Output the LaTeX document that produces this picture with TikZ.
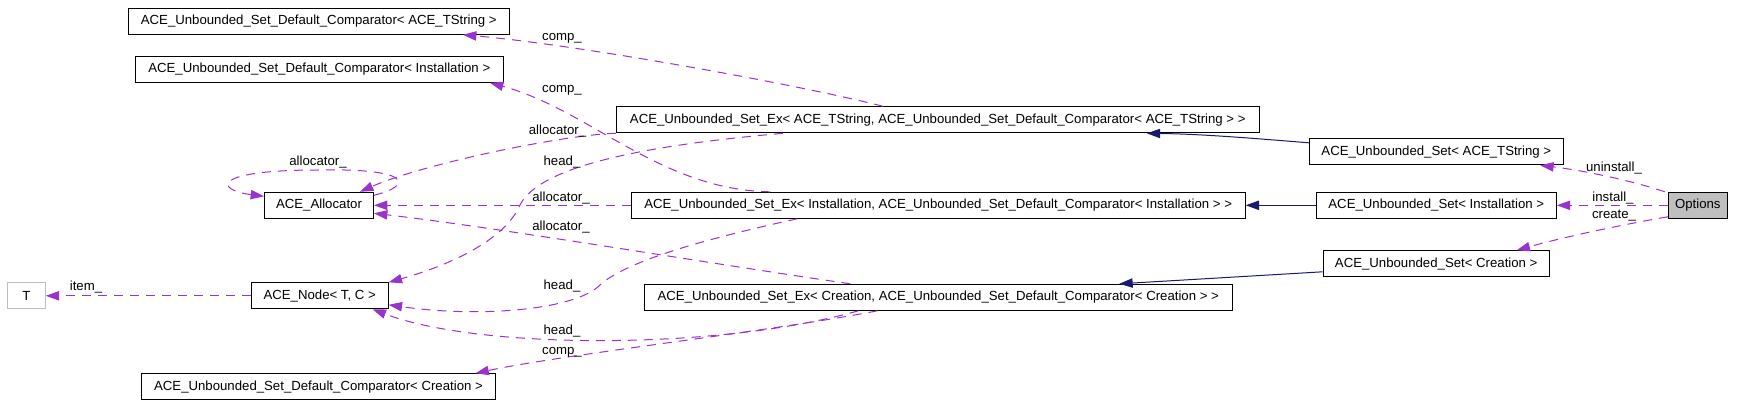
\documentclass[tikz,border=0pt]{standalone}
\usepackage{fontspec}
\setmainfont{Liberation Sans}
\usetikzlibrary{arrows.meta,calc}
\definecolor{depc}{HTML}{9A32CD}
\definecolor{inhc}{HTML}{191970}
\definecolor{grayc}{HTML}{BFBFBF}
\begin{document}
\begin{tikzpicture}[x=0.75pt,y=-0.75pt,
  cls/.style={draw=black, line width=0.75pt, inner sep=0pt, minimum height=26*0.75pt,
    font=\fontsize{9.9pt}{12pt}\selectfont, fill=white},
  wd/.style={minimum width=#1*0.75pt},
  lbl/.style={inner sep=0pt, font=\fontsize{9.9pt}{12pt}\selectfont},
  use/.style={draw=depc, line width=0.75pt, dash pattern=on 6.75pt off 5.25pt,
    -{Triangle[length=10pt,width=7pt]}},
  inh/.style={draw=inhc, line width=0.75pt, -{Triangle[length=10pt,width=7pt]}}]
\useasboundingbox[fill=white] (0,0) rectangle (1741,415);

% nodes
\node[cls,wd=381] (compT) at (318.8,21.3) {ACE\_Unbounded\_Set\_Default\_Comparator< ACE\_TString >};
\node[cls,wd=368] (compI) at (319.3,69.3) {ACE\_Unbounded\_Set\_Default\_Comparator< Installation >};
\node[cls,wd=354] (compC) at (318.5,386.8) {ACE\_Unbounded\_Set\_Default\_Comparator< Creation >};
\node[cls,wd=109] (alloc) at (319,205.3) {ACE\_Allocator};
\node[cls,wd=137] (nodeTC) at (319.7,295.8) {ACE\_Node< T, C >};
\node[cls,wd=38,draw=grayc] (T) at (26.3,295.8) {T};
\node[cls,wd=643] (exT) at (937.8,119.8) {ACE\_Unbounded\_Set\_Ex< ACE\_TString, ACE\_Unbounded\_Set\_Default\_Comparator< ACE\_TString > >};
\node[cls,wd=614] (exI) at (938.2,205.3) {ACE\_Unbounded\_Set\_Ex< Installation, ACE\_Unbounded\_Set\_Default\_Comparator< Installation > >};
\node[cls,wd=588] (exC) at (938.3,297.3) {ACE\_Unbounded\_Set\_Ex< Creation, ACE\_Unbounded\_Set\_Default\_Comparator< Creation > >};
\node[cls,wd=254] (setT) at (1436.3,151.8) {ACE\_Unbounded\_Set< ACE\_TString >};
\node[cls,wd=240] (setI) at (1436.3,205.3) {ACE\_Unbounded\_Set< Installation >};
\node[cls,wd=226] (setC) at (1436.2,263.8) {ACE\_Unbounded\_Set< Creation >};
\node[cls,wd=59,fill=grayc] (opt) at (1697.8,205.3) {Options};

% usage edges
\draw[use] ($(exT.north)+(-54.8,0)$) .. controls (800,85) and (580,45) .. ($(compT.south)+(144.2,0)$);
\draw[use] ($(exI.north)+(-168.2,0)$) .. controls (660,190) and (590,110) .. ($(compI.south)+(170.7,0)$);
\draw[use] (exT.south west) .. controls (560,135) and (420,165) .. ($(alloc.north)+(41,0)$);
\draw[use] ($(alloc.east)+(0,-10)$) .. controls (415,185) and (410,168) .. (318,170)
   .. controls (210,170) and (215,190) .. ($(alloc.west)+(0,-9)$);
\draw[use] (exI.west) -- (alloc.east);
\draw[use] ($(exC.north)+(-88,0)$) .. controls (700,262) and (500,228) .. ($(alloc.east)+(0,8)$);
\draw[use] ($(exT.south)+(-155,0)$) .. controls (650,145) and (540,165) .. (520,205)
   .. controls (505,240) and (450,265) .. (nodeTC.north east);
\draw[use] ($(exI.south)+(-141,0)$) .. controls (700,240) and (625,262) .. (600,285)
   .. controls (575,310) and (480,318) .. ($(nodeTC.east)+(0,9)$);
\draw[use] ($(exC.south)+(-80,0)$) .. controls (720,350) and (480,350) .. ($(nodeTC.south)+(53,0)$);
\draw[use] ($(exC.south)+(-61,0)$) .. controls (780,330) and (560,355) .. ($(compC.north)+(157,0)$);
\draw[use] (nodeTC.west) -- (T.east);
\draw[use] ($(opt.north west)+(-3,0)$) .. controls (1630,180) and (1580,170) .. ($(setT.south)+(104,0)$);
\draw[use] (opt.west) -- (setI.east);
\draw[use] ($(opt.south west)+(0,-2)$) .. controls (1620,225) and (1560,238) .. ($(setC.north)+(80.5,0)$);

% inheritance edges
\draw[inh] ($(setT.west)+(0,-9)$) .. controls (1250,138) and (1200,134) .. ($(exT.south)+(209,0)$);
\draw[inh] (setI.west) -- (exI.east);
\draw[inh] ($(setC.west)+(0,8)$) -- ($(exC.north)+(181,0)$);

% labels
\node[lbl] (l1) at (562,38) {comp\_};
\node[lbl] (l2) at (562,90) {comp\_};
\node[lbl] (l3) at (557.5,131) {allocator\_};
\node[lbl] (l4) at (318,162) {allocator\_};
\node[lbl] (l5) at (562,162) {head\_};
\node[lbl] (l6) at (561,198) {allocator\_};
\node[lbl] (l7) at (561,227) {allocator\_};
\node[lbl] (l8) at (562,286) {head\_};
\node[lbl] (l9) at (562,331) {head\_};
\node[lbl] (l10) at (562,352) {comp\_};
\node[lbl] (l11) at (86,287) {item\_};
\node[lbl] (l12) at (1614,168) {uninstall\_};
\node[lbl] (l13) at (1613,198) {install\_};
\node[lbl] (l14) at (1614,216) {create\_};
\end{tikzpicture}
\end{document}
